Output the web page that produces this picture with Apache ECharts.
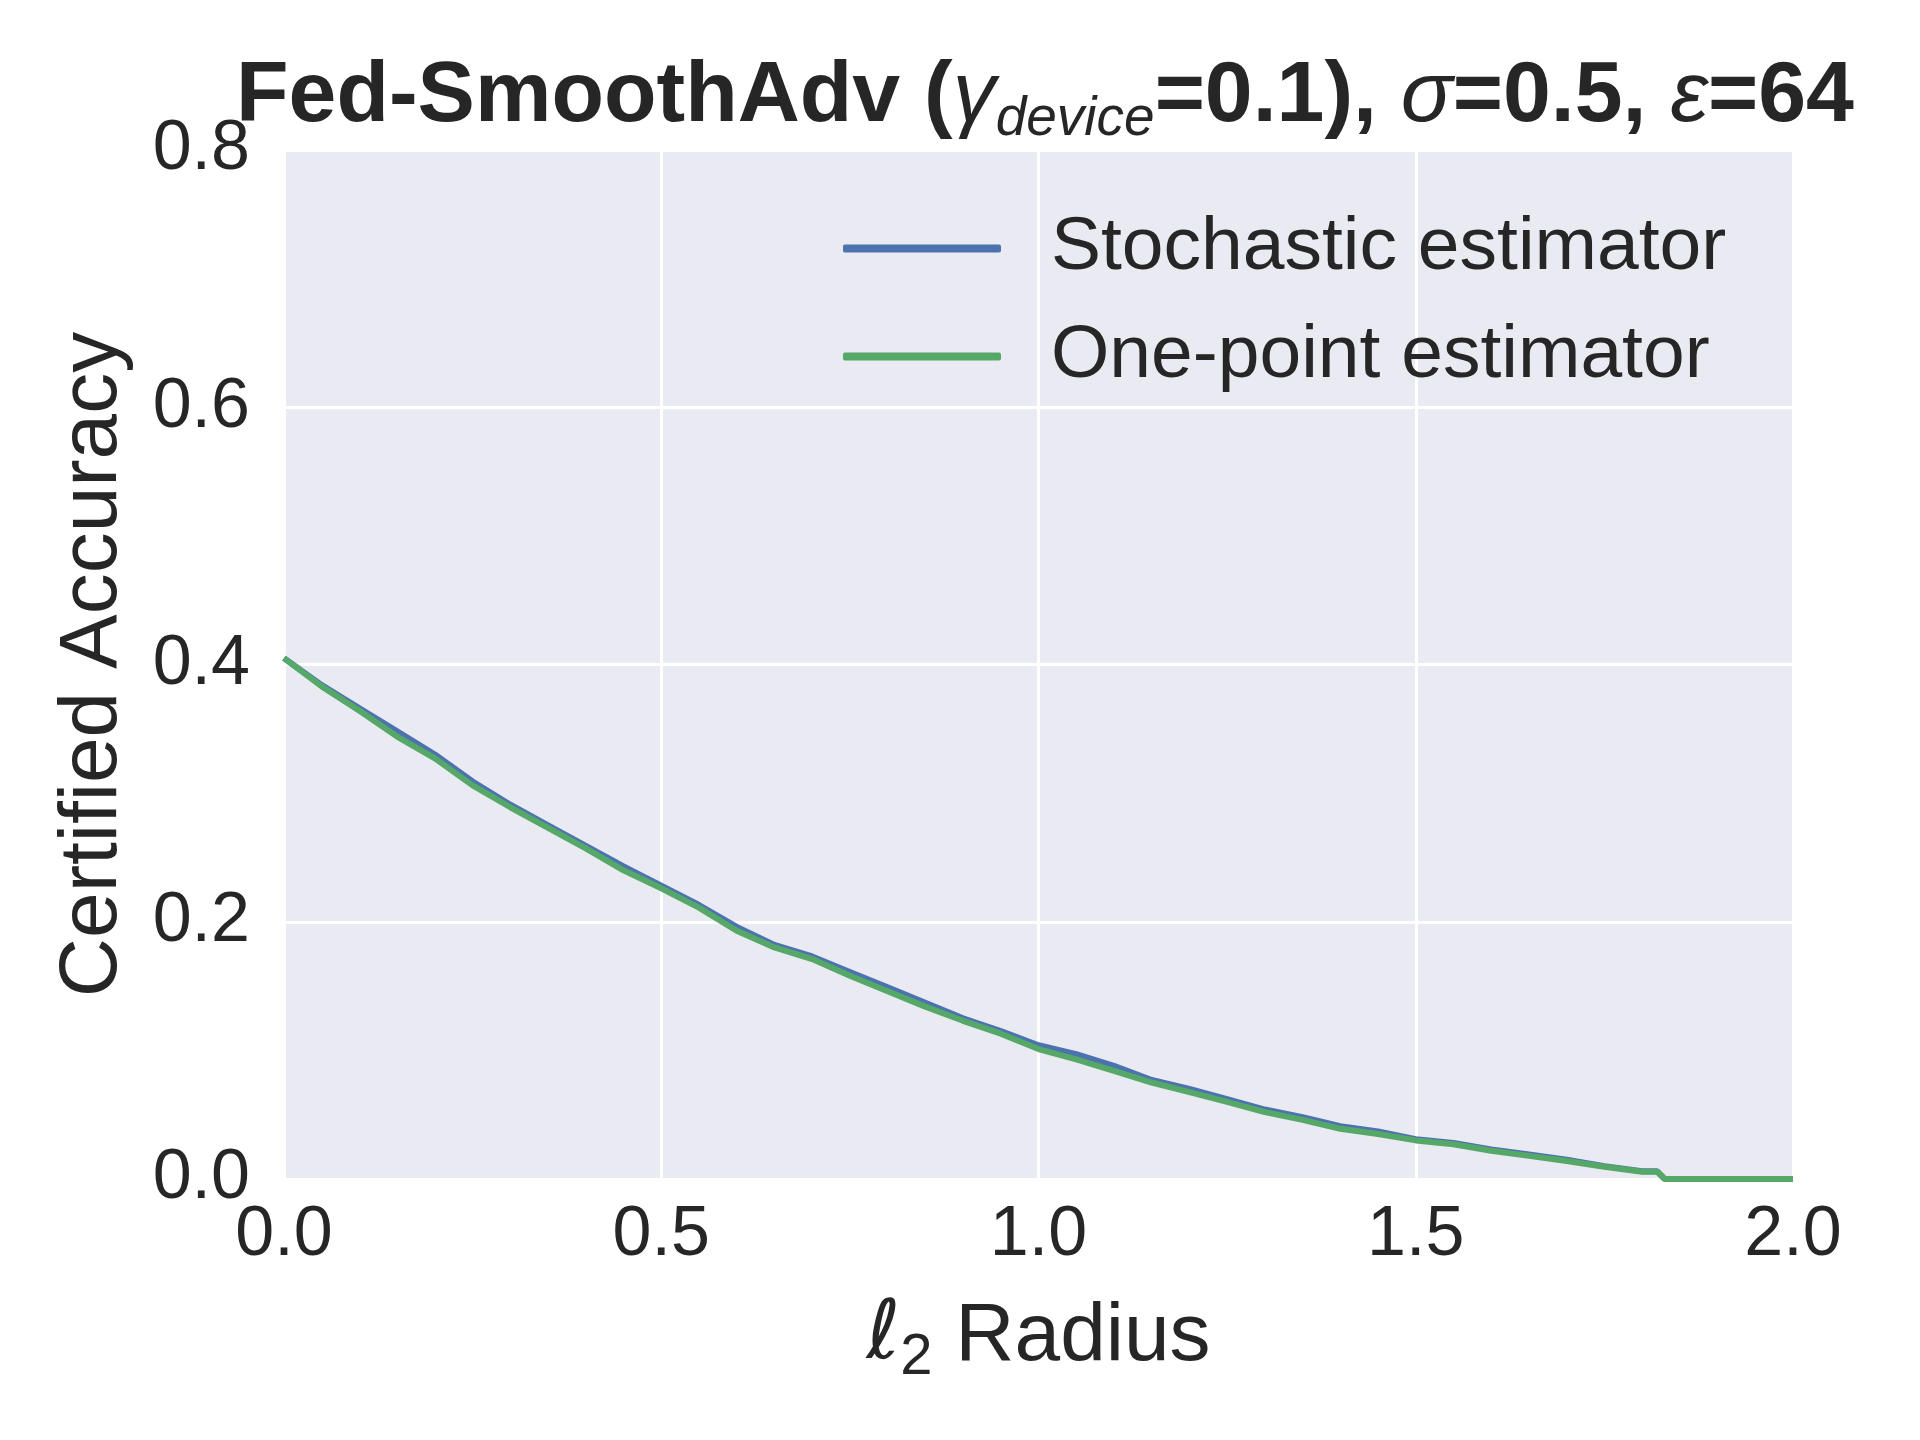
<!DOCTYPE html>
<html>
<head>
    <meta charset="UTF-8">
    <script src="https://cdn.jsdelivr.net/npm/echarts@6/dist/echarts.min.js"></script>
    <style type="text/css">
        html, body { margin: 0; padding: 0; background: #fff; }
        #chart { width: 1920px; height: 1440px; }
    </style>
</head>
<body>
<div id="chart"></div>
<script type="text/javascript">
    // l2 radius sample points, shared by both curves
    var radius = [0.00, 0.05, 0.10, 0.15, 0.20, 0.25, 0.30, 0.35, 0.40, 0.45,
        0.50, 0.55, 0.60, 0.65, 0.70, 0.75, 0.80, 0.85, 0.90, 0.95,
        1.00, 1.05, 1.10, 1.15, 1.20, 1.25, 1.30, 1.35, 1.40, 1.45,
        1.50, 1.55, 1.60, 1.65, 1.70, 1.75, 1.80, 1.82, 1.83, 2.00];
    var stochastic = [0.405, 0.384, 0.366, 0.348, 0.330, 0.309, 0.291, 0.275, 0.259, 0.243,
        0.228, 0.213, 0.196, 0.182, 0.173, 0.161, 0.149, 0.137, 0.125, 0.115,
        0.104, 0.097, 0.088, 0.077, 0.070, 0.062, 0.054, 0.048, 0.041, 0.037,
        0.031, 0.028, 0.023, 0.019, 0.015, 0.010, 0.006, 0.006, 0.000, 0.000];
    var onePoint = [0.405, 0.383, 0.364, 0.344, 0.327, 0.306, 0.289, 0.273, 0.257, 0.240,
        0.226, 0.211, 0.193, 0.180, 0.171, 0.158, 0.146, 0.134, 0.123, 0.113,
        0.101, 0.093, 0.084, 0.075, 0.0675, 0.060, 0.052, 0.046, 0.039, 0.035,
        0.030, 0.027, 0.022, 0.018, 0.014, 0.0095, 0.0057, 0.0057, 0.000, 0.000];
    var xTicks = [0.0, 0.5, 1.0, 1.5, 2.0];
    var yTicks = [0.0, 0.2, 0.4, 0.6, 0.8];
    var seriesNames = ['Stochastic estimator', 'One-point estimator'];

    var FONT = '"Liberation Sans", Arial, sans-serif';
    var INK = '#262626';

    function pairs(xs, ys) {
        return xs.map(function (x, i) { return [x, ys[i]]; });
    }

    var chart = echarts.init(document.getElementById('chart'), null, { renderer: 'canvas' });

    var option = {
        backgroundColor: '#ffffff',
        animation: false,
        color: ['#4C72B0', '#55A868'],
        title: {
            left: 1040,
            top: 42,
            textAlign: 'center',
            text: '{b|Fed-SmoothAdv (}{i|γ}{s|device}{b|=0.1), }{i|σ}{b|=0.5, }{i|ε}{b|=64}',
            textStyle: {
                fontWeight: 'normal',
                rich: {
                    b: { fontFamily: FONT, fontSize: 86, fontWeight: 'bold', color: INK, lineHeight: 100, verticalAlign: 'middle' },
                    i: { fontFamily: FONT, fontSize: 86, fontWeight: 'normal', fontStyle: 'italic', color: INK, lineHeight: 100, verticalAlign: 'middle' },
                    s: { fontFamily: FONT, fontSize: 55, fontWeight: 'normal', fontStyle: 'italic', color: INK, lineHeight: 52, verticalAlign: 'bottom' }
                }
            }
        },
        legend: {
            data: seriesNames,
            orient: 'vertical',
            left: 838,
            top: 206,
            icon: 'roundRect',
            itemWidth: 158,
            itemHeight: 8,
            itemGap: 33,
            textStyle: {
                fontFamily: FONT,
                fontSize: 75,
                lineHeight: 75,
                color: INK,
                padding: [0, 0, 0, 45]
            }
        },
        grid: {
            left: 284,
            right: 127,
            top: 150,
            bottom: 261,
            show: true,
            backgroundColor: '#EAEAF2',
            borderWidth: 0
        },
        xAxis: {
            type: 'value',
            min: xTicks[0],
            max: xTicks[xTicks.length - 1],
            interval: 0.5,
            name: '{l|ℓ}{sub|2}{n| Radius}',
            nameLocation: 'middle',
            nameGap: 108,
            nameTextStyle: {
                rich: {
                    l: { fontFamily: '"DejaVu Sans"', fontStyle: 'italic', fontSize: 82, color: INK, lineHeight: 100, verticalAlign: 'middle' },
                    sub: { fontFamily: FONT, fontSize: 58, color: INK, lineHeight: 58, verticalAlign: 'bottom' },
                    n: { fontFamily: FONT, fontSize: 82, color: INK, lineHeight: 100, verticalAlign: 'middle' }
                }
            },
            axisLine: { show: false },
            axisTick: { show: false },
            axisLabel: {
                margin: 22,
                fontFamily: FONT,
                fontSize: 70,
                color: INK,
                formatter: function (v) { return v.toFixed(1); }
            },
            splitLine: { show: true, lineStyle: { color: '#ffffff', width: 3 } }
        },
        yAxis: {
            type: 'value',
            min: yTicks[0],
            max: yTicks[yTicks.length - 1],
            interval: 0.2,
            name: 'Certified Accuracy',
            nameLocation: 'middle',
            nameGap: 150,
            nameTextStyle: { fontFamily: FONT, fontSize: 82, color: INK },
            axisLine: { show: false },
            axisTick: { show: false },
            axisLabel: {
                margin: 34,
                fontFamily: FONT,
                fontSize: 70,
                color: INK,
                formatter: function (v) { return v.toFixed(1); }
            },
            splitLine: { show: true, lineStyle: { color: '#ffffff', width: 3 } }
        },
        series: [
            {
                name: seriesNames[0],
                type: 'line',
                showSymbol: false,
                lineStyle: { width: 6 },
                data: pairs(radius, stochastic)
            },
            {
                name: seriesNames[1],
                type: 'line',
                showSymbol: false,
                lineStyle: { width: 6 },
                data: pairs(radius, onePoint)
            }
        ]
    };

    chart.setOption(option);
</script>
</body>
</html>
